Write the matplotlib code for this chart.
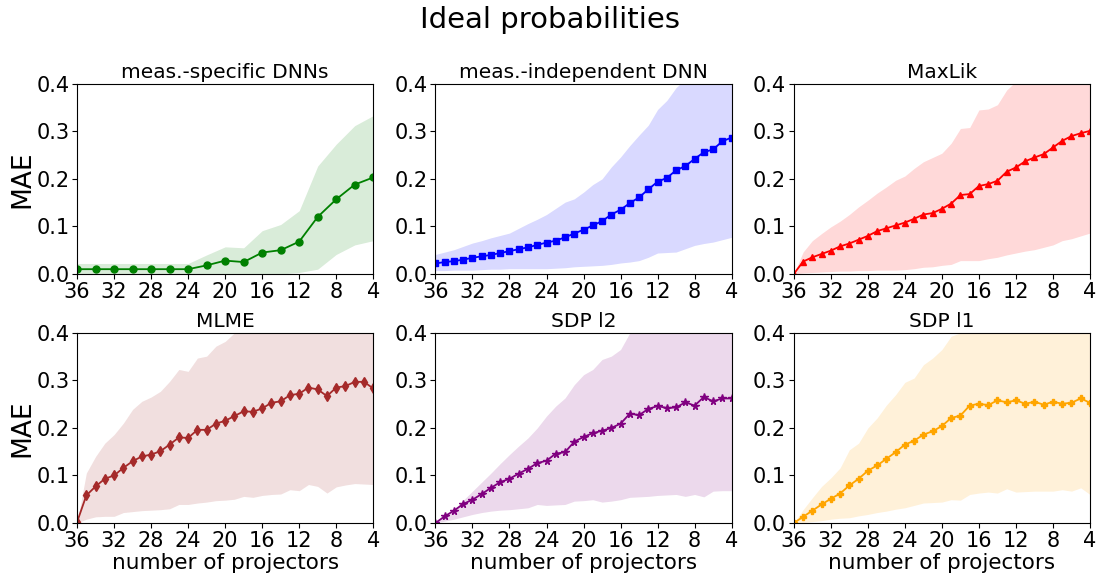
"""Ideal probabilities: MAE vs number of projectors for six reconstruction methods."""

import matplotlib

matplotlib.use("Agg")

import matplotlib.pyplot as plt
import numpy as np

# --- data -------------------------------------------------------------------
X_EVEN = list(range(36, 3, -2))
X_ALL = list(range(36, 3, -1))

SPEC_MEAN = [0.010, 0.010, 0.010, 0.010, 0.010, 0.010, 0.010, 0.018, 0.028,
             0.025, 0.045, 0.050, 0.068, 0.120, 0.157, 0.188, 0.203]
SPEC_LOW = [0.0, 0.0, 0.0, 0.0, 0.0, 0.0, 0.0, 0.0, 0.0,
            0.0, 0.0, 0.0, 0.003, 0.010, 0.041, 0.061, 0.070]
SPEC_HIGH = [0.022, 0.022, 0.022, 0.022, 0.022, 0.022, 0.022, 0.040, 0.057,
             0.055, 0.091, 0.104, 0.133, 0.227, 0.273, 0.312, 0.333]

INDEP_MEAN = [0.022, 0.025, 0.027, 0.030, 0.034, 0.037, 0.040, 0.044, 0.048,
              0.052, 0.056, 0.061, 0.066, 0.070, 0.077, 0.085, 0.093, 0.102,
              0.111, 0.125, 0.135, 0.149, 0.161, 0.178, 0.194, 0.202, 0.218,
              0.227, 0.242, 0.256, 0.262, 0.279, 0.287]
INDEP_LOW = [0.007, 0.007, 0.008, 0.008, 0.008, 0.009, 0.010, 0.010, 0.011,
             0.011, 0.011, 0.011, 0.011, 0.012, 0.013, 0.015, 0.016, 0.017,
             0.018, 0.020, 0.023, 0.025, 0.028, 0.035, 0.044, 0.045, 0.046,
             0.053, 0.060, 0.064, 0.067, 0.072, 0.077]
INDEP_HIGH = [0.041, 0.046, 0.051, 0.058, 0.065, 0.070, 0.076, 0.081, 0.086,
              0.096, 0.106, 0.115, 0.125, 0.138, 0.151, 0.158, 0.172, 0.188,
              0.200, 0.225, 0.246, 0.270, 0.292, 0.313, 0.346, 0.365, 0.392,
              0.410, 0.430, 0.445, 0.460, 0.470, 0.480]

MAXLIK_MEAN = [0.000, 0.026, 0.035, 0.042, 0.049, 0.058, 0.064, 0.072, 0.080,
               0.090, 0.096, 0.102, 0.108, 0.116, 0.125, 0.128, 0.137, 0.148,
               0.166, 0.168, 0.185, 0.189, 0.196, 0.215, 0.224, 0.237, 0.245,
               0.252, 0.266, 0.280, 0.290, 0.296, 0.301]
MAXLIK_LOW = [0.000, 0.002, 0.003, 0.004, 0.005, 0.006, 0.006, 0.007, 0.007,
              0.008, 0.008, 0.008, 0.009, 0.011, 0.014, 0.015, 0.018, 0.020,
              0.028, 0.028, 0.028, 0.032, 0.035, 0.040, 0.044, 0.048, 0.051,
              0.056, 0.061, 0.070, 0.074, 0.080, 0.086]
MAXLIK_HIGH = [0.000, 0.046, 0.070, 0.085, 0.099, 0.111, 0.125, 0.141, 0.155,
               0.170, 0.183, 0.197, 0.206, 0.222, 0.236, 0.245, 0.254, 0.275,
               0.306, 0.308, 0.345, 0.347, 0.356, 0.387, 0.405, 0.415, 0.425,
               0.430, 0.435, 0.440, 0.445, 0.450, 0.455]

MLME_MEAN = [0.002, 0.058, 0.077, 0.093, 0.100, 0.116, 0.130, 0.140, 0.144,
             0.151, 0.165, 0.180, 0.179, 0.196, 0.196, 0.209, 0.215, 0.225,
             0.235, 0.234, 0.241, 0.253, 0.256, 0.269, 0.272, 0.285, 0.281,
             0.267, 0.285, 0.288, 0.297, 0.297, 0.283]
MLME_LOW = [0.000, 0.008, 0.013, 0.014, 0.014, 0.022, 0.024, 0.026, 0.027,
            0.028, 0.030, 0.039, 0.039, 0.042, 0.044, 0.047, 0.048, 0.050,
            0.056, 0.054, 0.058, 0.060, 0.061, 0.070, 0.068, 0.081, 0.077,
            0.063, 0.076, 0.080, 0.083, 0.082, 0.081]
MLME_HIGH = [0.000, 0.105, 0.140, 0.168, 0.186, 0.210, 0.239, 0.256, 0.265,
             0.277, 0.298, 0.323, 0.319, 0.347, 0.351, 0.372, 0.382, 0.400,
             0.420, 0.430, 0.440, 0.450, 0.460, 0.470, 0.475, 0.480, 0.480,
             0.480, 0.480, 0.480, 0.480, 0.480, 0.480]

SDP2_MEAN = [0.000, 0.014, 0.026, 0.040, 0.049, 0.061, 0.074, 0.086, 0.093,
             0.104, 0.114, 0.126, 0.131, 0.146, 0.149, 0.171, 0.181, 0.189,
             0.194, 0.200, 0.209, 0.230, 0.227, 0.240, 0.246, 0.242, 0.243,
             0.254, 0.247, 0.265, 0.256, 0.262, 0.262]
SDP2_LOW = [0.000, 0.004, 0.008, 0.013, 0.018, 0.022, 0.025, 0.027, 0.028,
            0.030, 0.032, 0.039, 0.037, 0.038, 0.039, 0.046, 0.047, 0.049,
            0.044, 0.046, 0.049, 0.054, 0.055, 0.056, 0.058, 0.059, 0.060,
            0.056, 0.060, 0.055, 0.067, 0.068, 0.068]
SDP2_HIGH = [0.000, 0.014, 0.028, 0.048, 0.067, 0.086, 0.105, 0.125, 0.144,
             0.162, 0.179, 0.200, 0.225, 0.246, 0.263, 0.291, 0.312, 0.323,
             0.344, 0.351, 0.365, 0.400, 0.410, 0.420, 0.430, 0.440, 0.445,
             0.450, 0.455, 0.460, 0.460, 0.460, 0.460]

SDP1_MEAN = [0.000, 0.013, 0.026, 0.039, 0.051, 0.062, 0.079, 0.093, 0.110,
             0.121, 0.135, 0.149, 0.165, 0.173, 0.186, 0.193, 0.204, 0.221,
             0.226, 0.247, 0.251, 0.248, 0.258, 0.254, 0.258, 0.251, 0.255,
             0.249, 0.255, 0.251, 0.253, 0.262, 0.253]
SDP1_LOW = [0.000, 0.001, 0.003, 0.005, 0.008, 0.010, 0.011, 0.015, 0.018,
            0.022, 0.025, 0.029, 0.032, 0.037, 0.042, 0.043, 0.044, 0.049,
            0.048, 0.060, 0.063, 0.065, 0.063, 0.072, 0.065, 0.066, 0.067,
            0.067, 0.067, 0.070, 0.067, 0.074, 0.060]
SDP1_HIGH = [0.000, 0.028, 0.053, 0.077, 0.095, 0.116, 0.154, 0.168, 0.200,
             0.221, 0.248, 0.270, 0.296, 0.305, 0.333, 0.347, 0.365, 0.393,
             0.400, 0.420, 0.430, 0.440, 0.445, 0.450, 0.455, 0.460, 0.460,
             0.460, 0.460, 0.460, 0.460, 0.460, 0.460]

PANELS = (
    ("meas.-specific DNNs", X_EVEN, SPEC_MEAN, SPEC_LOW, SPEC_HIGH, "green", "o", 5),
    ("meas.-independent DNN", X_ALL, INDEP_MEAN, INDEP_LOW, INDEP_HIGH, "blue", "s", 4.5),
    ("MaxLik", X_ALL, MAXLIK_MEAN, MAXLIK_LOW, MAXLIK_HIGH, "red", "^", 5),
    ("MLME", X_ALL, MLME_MEAN, MLME_LOW, MLME_HIGH, "brown", "d", 5),
    ("SDP l2", X_ALL, SDP2_MEAN, SDP2_LOW, SDP2_HIGH, "purple", "*", 5.5),
    ("SDP l1", X_ALL, SDP1_MEAN, SDP1_LOW, SDP1_HIGH, "orange", "P", 5),
)

X_TICKS = [36, 32, 28, 24, 20, 16, 12, 8, 4]
Y_TICKS = [0.0, 0.1, 0.2, 0.3, 0.4]

# --- figure -----------------------------------------------------------------
fig, axes = plt.subplots(2, 3, figsize=(11.01, 5.86), dpi=100)
fig.subplots_adjust(left=0.070, right=0.990, top=0.857, bottom=0.1075,
                    wspace=0.21, hspace=0.31)
fig.suptitle("Ideal probabilities", fontsize=21, y=0.99)

for idx, (axis, (title, x, mean, low, high, color, marker, size)) in enumerate(
    zip(axes.flat, PANELS, strict=True)
):
    axis.fill_between(x, low, high, color=color, alpha=0.15, linewidth=0)
    axis.plot(x, mean, color=color, marker=marker, markersize=size, linewidth=1.3)
    axis.set_title(title, fontsize=14.5, pad=4)
    axis.set_xlim(36, 4)
    axis.set_ylim(0, 0.4)
    axis.set_xticks(X_TICKS)
    axis.set_yticks(Y_TICKS)
    axis.tick_params(labelsize=15, pad=2)
    if idx % 3 == 0:
        axis.set_ylabel("MAE", fontsize=19, labelpad=1)
    if idx >= 3:
        axis.set_xlabel("number of projectors", fontsize=15.5, labelpad=2)

fig.savefig("out.png", dpi=100)
plt.close(fig)
